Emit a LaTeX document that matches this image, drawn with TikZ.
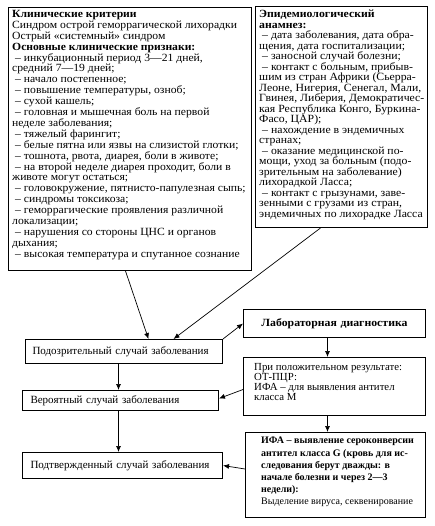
\documentclass[tikz,border=0pt]{standalone}
\usepackage{fontspec}
\setmainfont{Liberation Serif}
\newfontfamily\wideserif[FakeStretch=1.06]{Liberation Serif}
\newfontfamily\medserif[FakeStretch=1.07]{Liberation Serif}
\usetikzlibrary{arrows.meta,calc}
\begin{document}
\begin{tikzpicture}[x=1pt,y=-1pt,
  box/.style={draw, line width=1pt, inner sep=0pt, anchor=north west},
  bigtxt/.style={inner sep=0pt, align=left, anchor=north west, font=\fontsize{11}{10.9}\selectfont},
  sbox/.style={draw, line width=1pt, anchor=north west, align=left, inner ysep=0pt, font=\fontsize{11}{11}\selectfont},
  arr/.style={-{Latex[length=6pt,width=5pt]}, line width=0.7pt}]
\useasboundingbox (0,0) rectangle (435,526);
\fill[white] (0,0) rectangle (435,526);

% big boxes
\node[box, minimum width=243pt, minimum height=263pt] (clin) at (8,7) {};
\node[bigtxt, font=\wideserif\fontsize{11}{10.9}\selectfont] (clintext) at (12,10) {\textbf{Клинические критерии}\\
Синдром острой геморрагической лихорадки\\
Острый «системный» синдром\\
\textbf{Основные клинические признаки:}\\
\hspace*{3pt}– инкубационный период 3—21 дней,\\
средний 7—19 дней;\\
\hspace*{3pt}– начало постепенное;\\
\hspace*{3pt}– повышение температуры, озноб;\\
\hspace*{3pt}– сухой кашель;\\
\hspace*{3pt}– головная и мышечная боль на первой\\
неделе заболевания;\\
\hspace*{3pt}– тяжелый фарингит;\\
\hspace*{3pt}– белые пятна или язвы на слизистой глотки;\\
\hspace*{3pt}– тошнота, рвота, диарея, боли в животе;\\
\hspace*{3pt}– на второй неделе диарея проходит, боли в\\
животе могут остаться;\\
\hspace*{3pt}– головокружение, пятнисто-папулезная сыпь;\\
\hspace*{3pt}– синдромы токсикоза;\\
\hspace*{3pt}– геморрагические проявления различной\\
локализации;\\
\hspace*{3pt}– нарушения со стороны ЦНС и органов\\
дыхания;\\
\hspace*{3pt}– высокая температура и спутанное сознание};

\node[box, minimum width=172pt, minimum height=221pt] (epid) at (255,6) {};
\node[bigtxt, font=\medserif\fontsize{11}{10.5}\selectfont] (epidtext) at (259,10) {\textbf{Эпидемиологический}\\
\textbf{анамнез:}\\
\hspace*{3pt}– дата заболевания, дата обра-\\
щения, дата госпитализации;\\
\hspace*{3pt}– заносной случай болезни;\\
\hspace*{3pt}– контакт с больным, прибыв-\\
шим из стран Африки (Сьерра-\\
Леоне, Нигерия, Сенегал, Мали,\\
Гвинея, Либерия, Демократичес-\\
кая Республика Конго, Буркина-\\
Фасо, ЦАР);\\
\hspace*{3pt}– нахождение в эндемичных\\
странах;\\
\hspace*{3pt}– оказание медицинской по-\\
мощи, уход за больным (подо-\\
зрительным на заболевание)\\
лихорадкой Ласса;\\
\hspace*{3pt}– контакт с грызунами, заве-\\
зенными с грузами из стран,\\
эндемичных по лихорадке Ласса};

% left case boxes
\node[sbox, text width=183pt, inner xsep=7pt, minimum height=24pt] (susp) at (25,339) {Подозрительный случай заболевания};
\node[sbox, text width=180pt, inner xsep=8pt, minimum height=20pt] (prob) at (22,390) {Вероятный случай заболевания};
\node[sbox, text width=184pt, inner xsep=8pt, minimum height=26pt] (conf) at (22,452) {Подтвержденный случай заболевания};

% right lab boxes
\node[sbox, align=center, text width=182pt, inner xsep=0pt, minimum height=28pt, font=\medserif\bfseries\fontsize{11}{11}\selectfont] (lab) at (243,309) {Лабораторная диагностика};
\node[box, minimum width=182pt, minimum height=58pt] (pos) at (243,357) {};
\node[bigtxt, font=\fontsize{10.8}{10}\selectfont] (postext) at (254,363) {При положительном результате:\\
ОТ-ПЦР:\\
ИФА – для выявления антител\\
класса М};
\node[box, minimum width=180pt, minimum height=85pt] (ifa) at (245,432) {};
\node[bigtxt, font=\fontsize{10}{12.2}\selectfont] (ifatext) at (261,437) {\textbf{ИФА – выявление сероконверсии}\\
\textbf{антител класса G (кровь для ис-}\\
\textbf{следования берут дважды: в}\\
\textbf{начале болезни и через 2—3}\\
\textbf{недели):}\\
Выделение вируса, секвенирование};

% connectors
\draw[arr] ([xshift=-4.5pt]clin.south) -- ([xshift=24.5pt]susp.north);
\draw[arr] ([xshift=-21pt]epid.south) -- ([xshift=49.5pt]susp.north);
\draw[arr] (susp.north east) -- (lab.west);
\coordinate (c1) at ([xshift=-7pt]lab.south);
\draw[arr] (c1) -- (c1 |- pos.north);
\coordinate (c2) at ([xshift=-7pt]pos.south);
\draw[arr] (c2) -- (c2 |- ifa.north);
\draw[arr] ([yshift=-3pt]pos.west) -- ([yshift=2pt]prob.east);
\draw[arr] ([yshift=6pt]ifa.west) -- (conf.east);
\coordinate (c3) at ([xshift=-5.5pt]susp.south);
\draw[arr] (c3) -- (c3 |- prob.north);
\coordinate (c4) at ([xshift=-2pt]prob.south);
\draw[arr] (c4) -- (c4 |- conf.north);
\end{tikzpicture}
\end{document}
